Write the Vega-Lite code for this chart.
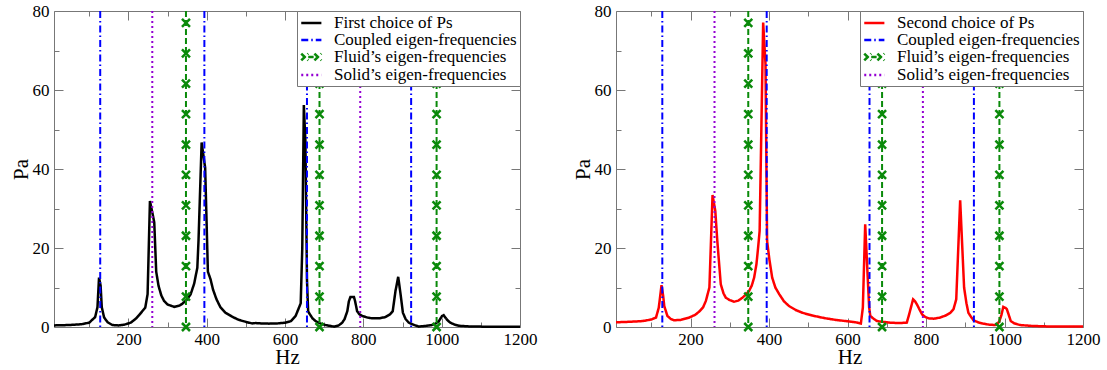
{
  "$schema": "https://vega.github.io/schema/vega-lite/v6.json",
  "padding": {"left": 9, "top": 1, "right": 0, "bottom": 0},
  "background": "white",
  "config": {
    "font": "Liberation Serif",
    "view": {"stroke": "#777", "strokeWidth": 1},
    "axis": {"grid": false, "domain": false, "tickColor": "#777", "tickWidth": 1, "labelFont": "Liberation Serif", "labelFontSize": 17, "labelColor": "black", "titleFont": "Liberation Serif", "titleFontSize": 21, "titleFontWeight": "normal", "titleColor": "black", "labelOverlap": false, "labelFlush": false},
    "legend": {"title": null, "orient": "top-right", "offset": 0, "fillColor": "white", "strokeColor": "#777", "padding": 3, "labelFont": "Liberation Serif", "labelFontSize": 17, "labelColor": "black", "labelLimit": 400, "symbolSize": 240, "symbolStrokeWidth": 2.5, "symbolType": "stroke", "labelOffset": 16, "rowPadding": 0}
  },
  "datasets": {
    "vlines": [
      {"hz": 128, "series": "Coupled eigen-frequencies"},
      {"hz": 394, "series": "Coupled eigen-frequencies"},
      {"hz": 656, "series": "Coupled eigen-frequencies"},
      {"hz": 922, "series": "Coupled eigen-frequencies"},
      {"hz": 347, "series": "Fluid’s eigen-frequencies"},
      {"hz": 688, "series": "Fluid’s eigen-frequencies"},
      {"hz": 987, "series": "Fluid’s eigen-frequencies"},
      {"hz": 261, "series": "Solid’s eigen-frequencies"},
      {"hz": 792, "series": "Solid’s eigen-frequencies"}
    ],
    "fluidmarks": [
      {"hz": 347, "pa": 0}, {"hz": 347, "pa": 7.7}, {"hz": 347, "pa": 15.4}, {"hz": 347, "pa": 23.1}, {"hz": 347, "pa": 30.8}, {"hz": 347, "pa": 38.5}, {"hz": 347, "pa": 46.2}, {"hz": 347, "pa": 53.9}, {"hz": 347, "pa": 61.6}, {"hz": 347, "pa": 69.3}, {"hz": 347, "pa": 77},
      {"hz": 688, "pa": 0}, {"hz": 688, "pa": 7.7}, {"hz": 688, "pa": 15.4}, {"hz": 688, "pa": 23.1}, {"hz": 688, "pa": 30.8}, {"hz": 688, "pa": 38.5}, {"hz": 688, "pa": 46.2}, {"hz": 688, "pa": 53.9}, {"hz": 688, "pa": 61.6}, {"hz": 688, "pa": 69.3}, {"hz": 688, "pa": 77},
      {"hz": 987, "pa": 0}, {"hz": 987, "pa": 7.7}, {"hz": 987, "pa": 15.4}, {"hz": 987, "pa": 23.1}, {"hz": 987, "pa": 30.8}, {"hz": 987, "pa": 38.5}, {"hz": 987, "pa": 46.2}, {"hz": 987, "pa": 53.9}, {"hz": 987, "pa": 61.6}, {"hz": 987, "pa": 69.3}, {"hz": 987, "pa": 77}
    ],
    "ps1": [
      {"hz": 10, "pa": 0.4, "series": "First choice of Ps"},
      {"hz": 50, "pa": 0.5, "series": "First choice of Ps"},
      {"hz": 80, "pa": 0.7, "series": "First choice of Ps"},
      {"hz": 100, "pa": 1.1, "series": "First choice of Ps"},
      {"hz": 115, "pa": 2.5, "series": "First choice of Ps"},
      {"hz": 121, "pa": 5, "series": "First choice of Ps"},
      {"hz": 125, "pa": 12.5, "series": "First choice of Ps"},
      {"hz": 129, "pa": 10.5, "series": "First choice of Ps"},
      {"hz": 132, "pa": 5, "series": "First choice of Ps"},
      {"hz": 138, "pa": 2.4, "series": "First choice of Ps"},
      {"hz": 147, "pa": 1.2, "series": "First choice of Ps"},
      {"hz": 159, "pa": 0.5, "series": "First choice of Ps"},
      {"hz": 175, "pa": 0.4, "series": "First choice of Ps"},
      {"hz": 190, "pa": 0.6, "series": "First choice of Ps"},
      {"hz": 206, "pa": 1.1, "series": "First choice of Ps"},
      {"hz": 220, "pa": 2.2, "series": "First choice of Ps"},
      {"hz": 229, "pa": 3.2, "series": "First choice of Ps"},
      {"hz": 243, "pa": 4.9, "series": "First choice of Ps"},
      {"hz": 249, "pa": 8.3, "series": "First choice of Ps"},
      {"hz": 255, "pa": 31.9, "series": "First choice of Ps"},
      {"hz": 261, "pa": 29, "series": "First choice of Ps"},
      {"hz": 266, "pa": 26.5, "series": "First choice of Ps"},
      {"hz": 271, "pa": 14, "series": "First choice of Ps"},
      {"hz": 277, "pa": 10.4, "series": "First choice of Ps"},
      {"hz": 284, "pa": 8, "series": "First choice of Ps"},
      {"hz": 291, "pa": 6.6, "series": "First choice of Ps"},
      {"hz": 300, "pa": 5.7, "series": "First choice of Ps"},
      {"hz": 317, "pa": 5.1, "series": "First choice of Ps"},
      {"hz": 330, "pa": 5.4, "series": "First choice of Ps"},
      {"hz": 338, "pa": 5.9, "series": "First choice of Ps"},
      {"hz": 350, "pa": 7, "series": "First choice of Ps"},
      {"hz": 359, "pa": 8.3, "series": "First choice of Ps"},
      {"hz": 368, "pa": 11, "series": "First choice of Ps"},
      {"hz": 376, "pa": 15, "series": "First choice of Ps"},
      {"hz": 379, "pa": 21.8, "series": "First choice of Ps"},
      {"hz": 387, "pa": 46.7, "series": "First choice of Ps"},
      {"hz": 396, "pa": 40.3, "series": "First choice of Ps"},
      {"hz": 403, "pa": 14, "series": "First choice of Ps"},
      {"hz": 410, "pa": 12, "series": "First choice of Ps"},
      {"hz": 416, "pa": 9.5, "series": "First choice of Ps"},
      {"hz": 425, "pa": 7, "series": "First choice of Ps"},
      {"hz": 435, "pa": 5, "series": "First choice of Ps"},
      {"hz": 448, "pa": 3.6, "series": "First choice of Ps"},
      {"hz": 465, "pa": 2.6, "series": "First choice of Ps"},
      {"hz": 482, "pa": 1.8, "series": "First choice of Ps"},
      {"hz": 500, "pa": 1.3, "series": "First choice of Ps"},
      {"hz": 516, "pa": 0.9, "series": "First choice of Ps"},
      {"hz": 525, "pa": 1.0, "series": "First choice of Ps"},
      {"hz": 540, "pa": 0.9, "series": "First choice of Ps"},
      {"hz": 559, "pa": 0.85, "series": "First choice of Ps"},
      {"hz": 580, "pa": 0.9, "series": "First choice of Ps"},
      {"hz": 601, "pa": 1.1, "series": "First choice of Ps"},
      {"hz": 615, "pa": 1.5, "series": "First choice of Ps"},
      {"hz": 627, "pa": 2.8, "series": "First choice of Ps"},
      {"hz": 636, "pa": 5, "series": "First choice of Ps"},
      {"hz": 640, "pa": 6, "series": "First choice of Ps"},
      {"hz": 644, "pa": 20, "series": "First choice of Ps"},
      {"hz": 648, "pa": 56.2, "series": "First choice of Ps"},
      {"hz": 652, "pa": 47, "series": "First choice of Ps"},
      {"hz": 656, "pa": 12, "series": "First choice of Ps"},
      {"hz": 659, "pa": 4, "series": "First choice of Ps"},
      {"hz": 661, "pa": 3.6, "series": "First choice of Ps"},
      {"hz": 670, "pa": 2.2, "series": "First choice of Ps"},
      {"hz": 678, "pa": 1.5, "series": "First choice of Ps"},
      {"hz": 690, "pa": 0.9, "series": "First choice of Ps"},
      {"hz": 703, "pa": 0.5, "series": "First choice of Ps"},
      {"hz": 725, "pa": 0.1, "series": "First choice of Ps"},
      {"hz": 737, "pa": 0.4, "series": "First choice of Ps"},
      {"hz": 746, "pa": 1.1, "series": "First choice of Ps"},
      {"hz": 752, "pa": 2, "series": "First choice of Ps"},
      {"hz": 759, "pa": 4, "series": "First choice of Ps"},
      {"hz": 763, "pa": 6.5, "series": "First choice of Ps"},
      {"hz": 767, "pa": 7.6, "series": "First choice of Ps"},
      {"hz": 776, "pa": 7.6, "series": "First choice of Ps"},
      {"hz": 779, "pa": 6.5, "series": "First choice of Ps"},
      {"hz": 784, "pa": 4, "series": "First choice of Ps"},
      {"hz": 790, "pa": 3.2, "series": "First choice of Ps"},
      {"hz": 797, "pa": 2.8, "series": "First choice of Ps"},
      {"hz": 810, "pa": 2.4, "series": "First choice of Ps"},
      {"hz": 822, "pa": 2.2, "series": "First choice of Ps"},
      {"hz": 840, "pa": 2.2, "series": "First choice of Ps"},
      {"hz": 856, "pa": 2.5, "series": "First choice of Ps"},
      {"hz": 868, "pa": 3.2, "series": "First choice of Ps"},
      {"hz": 875, "pa": 4, "series": "First choice of Ps"},
      {"hz": 882, "pa": 9.1, "series": "First choice of Ps"},
      {"hz": 889, "pa": 12.7, "series": "First choice of Ps"},
      {"hz": 895, "pa": 8.3, "series": "First choice of Ps"},
      {"hz": 901, "pa": 3.6, "series": "First choice of Ps"},
      {"hz": 908, "pa": 2.0, "series": "First choice of Ps"},
      {"hz": 916, "pa": 1.1, "series": "First choice of Ps"},
      {"hz": 930, "pa": 0.5, "series": "First choice of Ps"},
      {"hz": 942, "pa": 0.1, "series": "First choice of Ps"},
      {"hz": 960, "pa": 0.3, "series": "First choice of Ps"},
      {"hz": 975, "pa": 0.5, "series": "First choice of Ps"},
      {"hz": 985, "pa": 0.9, "series": "First choice of Ps"},
      {"hz": 993, "pa": 1.5, "series": "First choice of Ps"},
      {"hz": 1001, "pa": 2.8, "series": "First choice of Ps"},
      {"hz": 1005, "pa": 3, "series": "First choice of Ps"},
      {"hz": 1010, "pa": 2.3, "series": "First choice of Ps"},
      {"hz": 1016, "pa": 1.6, "series": "First choice of Ps"},
      {"hz": 1022, "pa": 1.1, "series": "First choice of Ps"},
      {"hz": 1033, "pa": 0.6, "series": "First choice of Ps"},
      {"hz": 1044, "pa": 0.3, "series": "First choice of Ps"},
      {"hz": 1070, "pa": 0.15, "series": "First choice of Ps"},
      {"hz": 1097, "pa": 0.1, "series": "First choice of Ps"},
      {"hz": 1150, "pa": 0.05, "series": "First choice of Ps"},
      {"hz": 1200, "pa": 0.05, "series": "First choice of Ps"}
    ],
    "ps2": [
      {"hz": 10, "pa": 1.2, "series": "Second choice of Ps"},
      {"hz": 40, "pa": 1.3, "series": "Second choice of Ps"},
      {"hz": 78, "pa": 1.5, "series": "Second choice of Ps"},
      {"hz": 100, "pa": 1.9, "series": "Second choice of Ps"},
      {"hz": 112, "pa": 2.4, "series": "Second choice of Ps"},
      {"hz": 119, "pa": 4.9, "series": "Second choice of Ps"},
      {"hz": 126, "pa": 10.6, "series": "Second choice of Ps"},
      {"hz": 130, "pa": 8, "series": "Second choice of Ps"},
      {"hz": 133, "pa": 5.3, "series": "Second choice of Ps"},
      {"hz": 141, "pa": 2.8, "series": "Second choice of Ps"},
      {"hz": 150, "pa": 2, "series": "Second choice of Ps"},
      {"hz": 158, "pa": 1.7, "series": "Second choice of Ps"},
      {"hz": 175, "pa": 1.8, "series": "Second choice of Ps"},
      {"hz": 197, "pa": 2.4, "series": "Second choice of Ps"},
      {"hz": 212, "pa": 3.1, "series": "Second choice of Ps"},
      {"hz": 222, "pa": 3.9, "series": "Second choice of Ps"},
      {"hz": 232, "pa": 5, "series": "Second choice of Ps"},
      {"hz": 239, "pa": 6.6, "series": "Second choice of Ps"},
      {"hz": 248, "pa": 10, "series": "Second choice of Ps"},
      {"hz": 256, "pa": 33.4, "series": "Second choice of Ps"},
      {"hz": 263, "pa": 29.4, "series": "Second choice of Ps"},
      {"hz": 268, "pa": 22, "series": "Second choice of Ps"},
      {"hz": 277, "pa": 10.8, "series": "Second choice of Ps"},
      {"hz": 284, "pa": 8.5, "series": "Second choice of Ps"},
      {"hz": 290, "pa": 7.4, "series": "Second choice of Ps"},
      {"hz": 300, "pa": 6.8, "series": "Second choice of Ps"},
      {"hz": 311, "pa": 6.4, "series": "Second choice of Ps"},
      {"hz": 322, "pa": 6.7, "series": "Second choice of Ps"},
      {"hz": 332, "pa": 7.4, "series": "Second choice of Ps"},
      {"hz": 341, "pa": 8.2, "series": "Second choice of Ps"},
      {"hz": 349, "pa": 9.1, "series": "Second choice of Ps"},
      {"hz": 356, "pa": 10.5, "series": "Second choice of Ps"},
      {"hz": 362, "pa": 12.5, "series": "Second choice of Ps"},
      {"hz": 368, "pa": 16, "series": "Second choice of Ps"},
      {"hz": 372, "pa": 20, "series": "Second choice of Ps"},
      {"hz": 376, "pa": 24.3, "series": "Second choice of Ps"},
      {"hz": 385, "pa": 77.1, "series": "Second choice of Ps"},
      {"hz": 391, "pa": 66.5, "series": "Second choice of Ps"},
      {"hz": 395, "pa": 21.8, "series": "Second choice of Ps"},
      {"hz": 401, "pa": 17, "series": "Second choice of Ps"},
      {"hz": 408, "pa": 12.5, "series": "Second choice of Ps"},
      {"hz": 416, "pa": 10, "series": "Second choice of Ps"},
      {"hz": 426, "pa": 8.3, "series": "Second choice of Ps"},
      {"hz": 438, "pa": 6.5, "series": "Second choice of Ps"},
      {"hz": 451, "pa": 5.3, "series": "Second choice of Ps"},
      {"hz": 468, "pa": 4.3, "series": "Second choice of Ps"},
      {"hz": 485, "pa": 3.6, "series": "Second choice of Ps"},
      {"hz": 510, "pa": 2.9, "series": "Second choice of Ps"},
      {"hz": 544, "pa": 2.2, "series": "Second choice of Ps"},
      {"hz": 570, "pa": 1.8, "series": "Second choice of Ps"},
      {"hz": 595, "pa": 1.5, "series": "Second choice of Ps"},
      {"hz": 620, "pa": 1.2, "series": "Second choice of Ps"},
      {"hz": 634, "pa": 0.9, "series": "Second choice of Ps"},
      {"hz": 639, "pa": 4.9, "series": "Second choice of Ps"},
      {"hz": 645, "pa": 26, "series": "Second choice of Ps"},
      {"hz": 651, "pa": 13.4, "series": "Second choice of Ps"},
      {"hz": 655, "pa": 5, "series": "Second choice of Ps"},
      {"hz": 658, "pa": 2.8, "series": "Second choice of Ps"},
      {"hz": 665, "pa": 2.2, "series": "Second choice of Ps"},
      {"hz": 675, "pa": 1.5, "series": "Second choice of Ps"},
      {"hz": 690, "pa": 1.3, "series": "Second choice of Ps"},
      {"hz": 709, "pa": 1.1, "series": "Second choice of Ps"},
      {"hz": 730, "pa": 1.0, "series": "Second choice of Ps"},
      {"hz": 751, "pa": 1.1, "series": "Second choice of Ps"},
      {"hz": 757, "pa": 3.2, "series": "Second choice of Ps"},
      {"hz": 767, "pa": 7, "series": "Second choice of Ps"},
      {"hz": 772, "pa": 6.5, "series": "Second choice of Ps"},
      {"hz": 777, "pa": 5.7, "series": "Second choice of Ps"},
      {"hz": 783, "pa": 4.5, "series": "Second choice of Ps"},
      {"hz": 790, "pa": 3.2, "series": "Second choice of Ps"},
      {"hz": 797, "pa": 2.6, "series": "Second choice of Ps"},
      {"hz": 806, "pa": 2.2, "series": "Second choice of Ps"},
      {"hz": 820, "pa": 2.1, "series": "Second choice of Ps"},
      {"hz": 836, "pa": 2.4, "series": "Second choice of Ps"},
      {"hz": 850, "pa": 2.9, "series": "Second choice of Ps"},
      {"hz": 862, "pa": 3.6, "series": "Second choice of Ps"},
      {"hz": 870, "pa": 4.5, "series": "Second choice of Ps"},
      {"hz": 877, "pa": 7, "series": "Second choice of Ps"},
      {"hz": 887, "pa": 32.1, "series": "Second choice of Ps"},
      {"hz": 897, "pa": 10, "series": "Second choice of Ps"},
      {"hz": 903, "pa": 6, "series": "Second choice of Ps"},
      {"hz": 908, "pa": 3.6, "series": "Second choice of Ps"},
      {"hz": 915, "pa": 2.5, "series": "Second choice of Ps"},
      {"hz": 921, "pa": 1.7, "series": "Second choice of Ps"},
      {"hz": 935, "pa": 1.1, "series": "Second choice of Ps"},
      {"hz": 946, "pa": 0.85, "series": "Second choice of Ps"},
      {"hz": 960, "pa": 0.6, "series": "Second choice of Ps"},
      {"hz": 976, "pa": 0.5, "series": "Second choice of Ps"},
      {"hz": 983, "pa": 0.9, "series": "Second choice of Ps"},
      {"hz": 987, "pa": 1.5, "series": "Second choice of Ps"},
      {"hz": 992, "pa": 3, "series": "Second choice of Ps"},
      {"hz": 997, "pa": 5.1, "series": "Second choice of Ps"},
      {"hz": 1003, "pa": 4.8, "series": "Second choice of Ps"},
      {"hz": 1006, "pa": 4.5, "series": "Second choice of Ps"},
      {"hz": 1011, "pa": 3, "series": "Second choice of Ps"},
      {"hz": 1016, "pa": 1.5, "series": "Second choice of Ps"},
      {"hz": 1025, "pa": 0.9, "series": "Second choice of Ps"},
      {"hz": 1040, "pa": 0.5, "series": "Second choice of Ps"},
      {"hz": 1065, "pa": 0.3, "series": "Second choice of Ps"},
      {"hz": 1090, "pa": 0.2, "series": "Second choice of Ps"},
      {"hz": 1130, "pa": 0.1, "series": "Second choice of Ps"},
      {"hz": 1200, "pa": 0.1, "series": "Second choice of Ps"}
    ]
  },
  "resolve": {"scale": {"color": "independent", "strokeDash": "independent"}, "legend": {"color": "independent", "strokeDash": "independent"}},
  "spacing": 33,
  "hconcat": [
    {
      "width": 466,
      "height": 316,
      "resolve": {"axis": {"x": "independent", "y": "independent"}},
      "layer": [
        {
          "data": {"name": "ps1"},
          "mark": {"type": "line", "strokeWidth": 2.5},
          "encoding": {
            "x": {"field": "hz", "type": "quantitative", "scale": {"domain": [10, 1200], "nice": false, "zero": false},
              "axis": {"orient": "bottom", "values": [200, 400, 600, 800, 1000, 1200], "format": "d", "tickSize": -9, "labelPadding": 13, "title": "Hz", "titleY": 36, "titleBaseline": "alphabetic"}},
            "y": {"field": "pa", "type": "quantitative", "scale": {"domain": [0, 80], "nice": false},
              "axis": {"orient": "left", "values": [0, 20, 40, 60, 80], "tickSize": -9, "labelPadding": 14, "title": "Pa", "titlePadding": 1}},
            "color": {"field": "series", "type": "nominal", "scale": {"domain": ["First choice of Ps", "Coupled eigen-frequencies", "Fluid’s eigen-frequencies", "Solid’s eigen-frequencies"], "range": ["black", "#0000ff", "#0a8a0a", "#9400d3"]},
              "legend": {"title": null, "orient": "top-right", "encode": {"symbols": {"update": {
                "shape": {"signal": "datum.index === 2 ? 'M-1,-0.45L-0.1,0.45M-1,0.45L-0.1,-0.45M-0.1,0H0.6M0.7,-0.45L1.6,0.45M0.7,0.45L1.6,-0.45' : 'M-1,0H1.6'"},
                "strokeDash": {"signal": "datum.index === 1 ? [2,4,12,4] : datum.index === 3 ? [2,6] : [1,0]"}
              }}}}},
            "strokeDash": {"field": "series", "type": "nominal", "scale": {"domain": ["First choice of Ps", "Coupled eigen-frequencies", "Fluid’s eigen-frequencies", "Solid’s eigen-frequencies"], "range": [[1, 0], [7, 3, 1.5, 3], [6, 3], [2, 3]]}}
          }
        },
        {
          "data": {"name": "vlines"},
          "mark": {"type": "rule", "strokeWidth": 2},
          "encoding": {
            "x": {"field": "hz", "type": "quantitative", "axis": {"orient": "top", "values": [100, 200, 300, 400, 500, 600, 700, 800, 900, 1000, 1100, 1200], "labels": false, "title": null, "tickSize": {"condition": {"test": "datum.value % 200 === 0", "value": -9}, "value": -5}}},
            "color": {"field": "series", "type": "nominal"},
            "strokeDash": {"field": "series", "type": "nominal"}
          }
        },
        {
          "data": {"name": "fluidmarks"},
          "mark": {"type": "point", "shape": "M-1,-1L1,1M-1,1L1,-1", "size": 64, "filled": false, "strokeWidth": 2.5, "color": "#0a8a0a", "opacity": 1},
          "encoding": {
            "x": {"field": "hz", "type": "quantitative", "axis": {"orient": "bottom", "values": [100, 300, 500, 700, 900, 1100], "labels": false, "title": null, "tickSize": -5}},
            "y": {"field": "pa", "type": "quantitative", "axis": {"orient": "left", "values": [10, 30, 50, 70], "labels": false, "title": null, "tickSize": -5}}
          }
        },
        {
          "data": {"name": "fluidmarks"},
          "mark": {"type": "point", "opacity": 0},
          "encoding": {
            "x": {"field": "hz", "type": "quantitative", "axis": null},
            "y": {"field": "pa", "type": "quantitative", "axis": {"orient": "right", "values": [0, 10, 20, 30, 40, 50, 60, 70, 80], "labels": false, "title": null, "tickSize": {"condition": {"test": "datum.value % 20 === 0", "value": -9}, "value": -5}}}
          }
        }
      ]
    },
    {
      "width": 467,
      "height": 316,
      "resolve": {"axis": {"x": "independent", "y": "independent"}},
      "layer": [
        {
          "data": {"name": "ps2"},
          "mark": {"type": "line", "strokeWidth": 2.5},
          "encoding": {
            "x": {"field": "hz", "type": "quantitative", "scale": {"domain": [10, 1200], "nice": false, "zero": false},
              "axis": {"orient": "bottom", "values": [200, 400, 600, 800, 1000, 1200], "format": "d", "tickSize": -9, "labelPadding": 13, "title": "Hz", "titleY": 36, "titleBaseline": "alphabetic"}},
            "y": {"field": "pa", "type": "quantitative", "scale": {"domain": [0, 80], "nice": false},
              "axis": {"orient": "left", "values": [0, 20, 40, 60, 80], "tickSize": -9, "labelPadding": 14, "title": "Pa", "titlePadding": 1}},
            "color": {"field": "series", "type": "nominal", "scale": {"domain": ["Second choice of Ps", "Coupled eigen-frequencies", "Fluid’s eigen-frequencies", "Solid’s eigen-frequencies"], "range": ["#ff0000", "#0000ff", "#0a8a0a", "#9400d3"]},
              "legend": {"title": null, "orient": "top-right", "encode": {"symbols": {"update": {
                "shape": {"signal": "datum.index === 2 ? 'M-1,-0.45L-0.1,0.45M-1,0.45L-0.1,-0.45M-0.1,0H0.6M0.7,-0.45L1.6,0.45M0.7,0.45L1.6,-0.45' : 'M-1,0H1.6'"},
                "strokeDash": {"signal": "datum.index === 1 ? [2,4,12,4] : datum.index === 3 ? [2,6] : [1,0]"}
              }}}}},
            "strokeDash": {"field": "series", "type": "nominal", "scale": {"domain": ["Second choice of Ps", "Coupled eigen-frequencies", "Fluid’s eigen-frequencies", "Solid’s eigen-frequencies"], "range": [[1, 0], [7, 3, 1.5, 3], [6, 3], [2, 3]]}}
          }
        },
        {
          "data": {"name": "vlines"},
          "mark": {"type": "rule", "strokeWidth": 2},
          "encoding": {
            "x": {"field": "hz", "type": "quantitative", "axis": {"orient": "top", "values": [100, 200, 300, 400, 500, 600, 700, 800, 900, 1000, 1100, 1200], "labels": false, "title": null, "tickSize": {"condition": {"test": "datum.value % 200 === 0", "value": -9}, "value": -5}}},
            "color": {"field": "series", "type": "nominal"},
            "strokeDash": {"field": "series", "type": "nominal"}
          }
        },
        {
          "data": {"name": "fluidmarks"},
          "mark": {"type": "point", "shape": "M-1,-1L1,1M-1,1L1,-1", "size": 64, "filled": false, "strokeWidth": 2.5, "color": "#0a8a0a", "opacity": 1},
          "encoding": {
            "x": {"field": "hz", "type": "quantitative", "axis": {"orient": "bottom", "values": [100, 300, 500, 700, 900, 1100], "labels": false, "title": null, "tickSize": -5}},
            "y": {"field": "pa", "type": "quantitative", "axis": {"orient": "left", "values": [10, 30, 50, 70], "labels": false, "title": null, "tickSize": -5}}
          }
        },
        {
          "data": {"name": "fluidmarks"},
          "mark": {"type": "point", "opacity": 0},
          "encoding": {
            "x": {"field": "hz", "type": "quantitative", "axis": null},
            "y": {"field": "pa", "type": "quantitative", "axis": {"orient": "right", "values": [0, 10, 20, 30, 40, 50, 60, 70, 80], "labels": false, "title": null, "tickSize": {"condition": {"test": "datum.value % 20 === 0", "value": -9}, "value": -5}}}
          }
        }
      ]
    }
  ]
}
